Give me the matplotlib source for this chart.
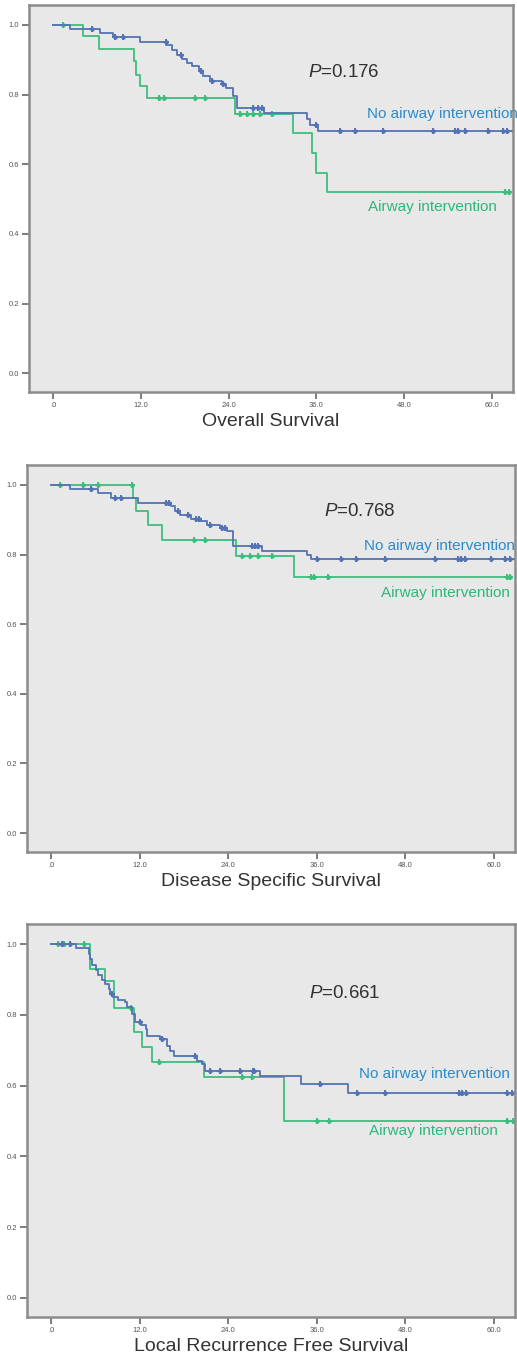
import numpy as np
import matplotlib
matplotlib.use("Agg")
import matplotlib.pyplot as plt

plt.rcParams['font.family'] = ['Liberation Sans', 'DejaVu Sans']
plt.rcParams['mathtext.fontset'] = 'custom'
plt.rcParams['mathtext.rm'] = 'Liberation Sans'
plt.rcParams['mathtext.it'] = 'Liberation Sans:italic'

# Kaplan-Meier step data (months, cumulative survival) -- no airway intervention (blue)
os_no_t = [2.3, 6.4, 8.2, 11.9, 15.5, 16.2, 16.9, 17.6, 18.3, 19.0, 19.9, 20.5, 21.5, 23.1, 23.7,
           24.6, 25.1, 28.8, 34.7, 35.1, 36.2]
os_no_s = [0.989, 0.976, 0.964, 0.952, 0.943, 0.929, 0.914, 0.902, 0.890, 0.881, 0.867, 0.854, 0.838,
           0.829, 0.819, 0.795, 0.762, 0.748, 0.729, 0.714, 0.695]
os_no_c = [5.3, 8.4, 9.5, 15.4, 17.5, 20.2, 21.8, 23.3, 27.3, 28.0, 28.6, 36.0, 39.2, 41.3, 45.1,
           51.9, 55.0, 55.4, 56.3, 59.5, 61.5, 62.1, 63.0]
# airway intervention (green)
os_aw_t = [4.1, 6.3, 11.0, 11.4, 11.9, 12.8, 24.9, 32.8, 35.4, 35.9, 37.4]
os_aw_s = [0.967, 0.930, 0.895, 0.857, 0.824, 0.789, 0.743, 0.690, 0.633, 0.576, 0.521]
os_aw_c = [1.4, 14.5, 15.1, 19.4, 20.8, 25.6, 26.5, 27.3, 28.3, 29.9, 61.8, 62.4]

dss_no_t = [2.5, 6.3, 8.1, 11.8, 16.3, 16.8, 17.5, 19.0, 20.2, 21.1, 22.9, 23.8, 24.7, 28.6, 34.7, 35.2]
dss_no_s = [0.988, 0.976, 0.962, 0.949, 0.938, 0.924, 0.914, 0.902, 0.895, 0.886, 0.876, 0.867,
            0.824, 0.810, 0.800, 0.788]
dss_no_c = [5.4, 8.6, 9.5, 15.5, 15.9, 17.2, 18.5, 19.6, 20.0, 21.5, 23.1, 23.5, 27.2, 27.6, 28.1,
            36.1, 39.3, 41.3, 45.2, 52.0, 55.2, 55.6, 56.1, 59.7, 61.5, 62.2, 63.0]
dss_aw_t = [11.1, 11.5, 13.1, 15.0, 25.0, 32.9]
dss_aw_s = [0.962, 0.924, 0.884, 0.843, 0.795, 0.736]
dss_aw_c = [1.2, 4.3, 6.3, 11.0, 19.3, 20.9, 25.9, 27.0, 28.1, 30.0, 35.2, 35.6, 37.5, 61.8, 62.2]

lrfs_no_t = [3.3, 5.1, 5.3, 5.5, 6.0, 6.4, 6.9, 7.3, 7.8, 8.0, 8.3, 9.1, 10.0, 10.3, 11.0, 11.4,
             12.1, 12.8, 13.0, 14.8, 15.7, 16.1, 16.6, 19.8, 20.4, 20.9, 28.3, 33.8, 40.3]
lrfs_no_s = [0.988, 0.973, 0.959, 0.940, 0.928, 0.912, 0.898, 0.888, 0.874, 0.860, 0.850, 0.841,
             0.836, 0.822, 0.803, 0.779, 0.770, 0.760, 0.741, 0.732, 0.713, 0.699, 0.685, 0.670,
             0.661, 0.642, 0.626, 0.604, 0.580]
lrfs_no_c = [1.5, 2.6, 8.2, 12.0, 15.0, 19.5, 21.5, 22.9, 25.6, 27.3, 27.5, 36.5, 41.5, 45.3,
             55.3, 55.7, 56.2, 61.8, 62.5]
lrfs_aw_t = [5.3, 7.3, 8.5, 11.2, 12.3, 13.7, 20.7, 31.5]
lrfs_aw_s = [0.931, 0.895, 0.820, 0.751, 0.708, 0.666, 0.625, 0.500]
lrfs_aw_c = [0.9, 1.7, 4.4, 10.8, 14.6, 25.9, 27.2, 36.0, 37.6, 61.8, 62.6]

titles = ['Overall Survival', 'Disease Specific Survival', 'Local Recurrence Free Survival']
pvals = ['0.176', '0.768', '0.661']
xticks = [0, 12, 24, 36, 48, 60]
xticklabels = ['.0', '12.0', '24.0', '36.0', '48.0', '60.0']
yticks = [0.0, 0.2, 0.4, 0.6, 0.8, 1.0]

blue = '#5473b5'
green = '#3cbf7e'
blue_txt = '#2a8bcc'
green_txt = '#2db77a'


def km(ax, t, s, c, col):
    tt = np.concatenate([[0.0], t, [max(c[-1], t[-1])]])
    ss = np.concatenate([[1.0], s, [s[-1]]])
    ax.step(tt, ss, where='post', color=col, lw=1.3, clip_on=True)
    # censored cases
    idx = np.searchsorted(tt, c, side='right') - 1
    ax.plot(c, ss[idx], ls='none', marker='+', ms=4.5, mew=1.4, color=col, clip_on=True)
    ax.plot(c, ss[idx], ls='none', marker='o', ms=2.2, color=col, clip_on=True)


fig = plt.figure(figsize=[5.17, 13.66], dpi=100)
boxes = [[0.0561, 0.7130, 0.936, 0.2833],
         [0.0522, 0.3763, 0.944, 0.2833],
         [0.0522, 0.0359, 0.944, 0.2877]]
curves = [(os_no_t, os_no_s, os_no_c, os_aw_t, os_aw_s, os_aw_c),
          (dss_no_t, dss_no_s, dss_no_c, dss_aw_t, dss_aw_s, dss_aw_c),
          (lrfs_no_t, lrfs_no_s, lrfs_no_c, lrfs_aw_t, lrfs_aw_s, lrfs_aw_c)]
# label anchors (x, y) for p-value, blue label, green label
anchors = [[(34.8, 0.863), (42.9, 0.743), (43.1, 0.477)],
           [(37.0, 0.923), (42.4, 0.823), (44.7, 0.689)],
           [(34.9, 0.861), (41.7, 0.634), (43.1, 0.472)]]

for i in range(3):
    ax = fig.add_axes(boxes[i])
    ax.set_facecolor('#e8e8e8')
    nt, ns, nc, at, a_s, ac = curves[i]
    km(ax, at, a_s, ac, green)
    km(ax, nt, ns, nc, blue)
    ax.set_xlim(-3.3, 62.9)
    ax.set_ylim(-0.054, 1.057)
    ax.set_xticks(xticks)
    ax.set_xticklabels(xticklabels)
    ax.set_yticks(yticks)
    ax.set_yticklabels(['%.1f' % v for v in yticks])
    ax.tick_params(direction='out', length=5, width=1.2, color='#666666', labelsize=5.5,
                   labelcolor='#555555', pad=2)
    for sp in ax.spines.values():
        sp.set_color('#8c8c8c')
        sp.set_linewidth(1.8)
    ax.set_xlabel(titles[i], fontsize=14, color='#333333', labelpad=3)
    (px, py), (bx, by), (gx, gy) = anchors[i]
    ax.text(px, py, r'$P$=' + pvals[i], fontsize=13.5, color='#333333', va='center', ha='left')
    ax.text(bx, by, 'No airway intervention', fontsize=11, color=blue_txt, va='center', ha='left',
            clip_on=False)
    ax.text(gx, gy, 'Airway intervention', fontsize=11, color=green_txt, va='center', ha='left',
            clip_on=False)

fig.savefig('out.png', dpi=100)
